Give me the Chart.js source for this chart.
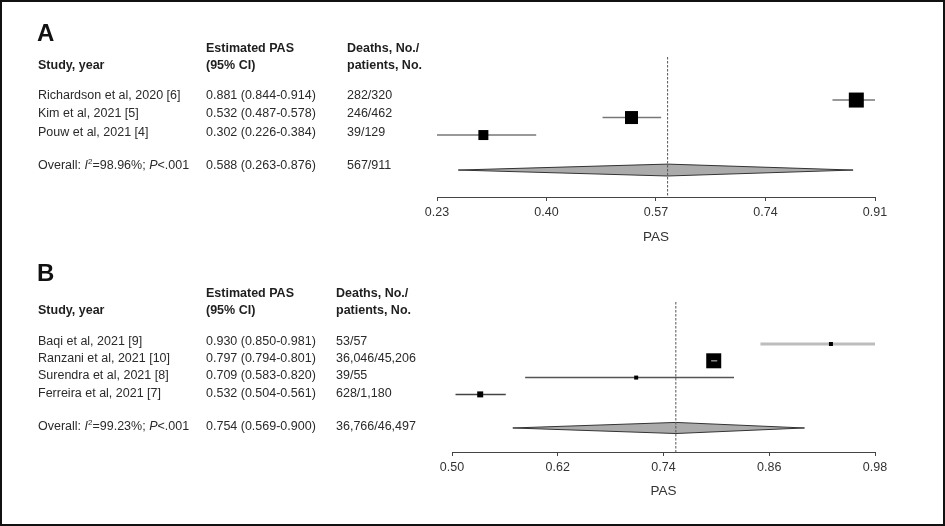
<!DOCTYPE html>
<html>
<head>
<meta charset="utf-8">
<script src="https://cdn.jsdelivr.net/npm/chart.js@4.4.0/dist/chart.umd.min.js"></script>
<style>
html,body{margin:0;padding:0;background:#fff;}
#frame{position:absolute;left:0;top:0;width:945px;height:526px;overflow:hidden;font-family:"Liberation Sans",Arial,Helvetica,sans-serif;color:#2a2a2a;background:#fff;}
#border{position:absolute;left:0;top:0;width:945px;height:526px;box-sizing:border-box;border:2px solid #111;pointer-events:none;}
.t{position:absolute;font-size:12.5px;line-height:15px;white-space:nowrap;}
.b{font-weight:bold;color:#1e1e1e;}
.panel{position:absolute;font-size:24px;font-weight:bold;line-height:28px;color:#111;}
sup{font-size:8px;line-height:0;vertical-align:5px;}
canvas{position:absolute;}
</style>
</head>
<body>
<div id="frame">
  <canvas id="chartA" width="500" height="215" style="left:400px;top:40px;width:500px;height:215px;"></canvas>
  <canvas id="chartB" width="500" height="225" style="left:400px;top:285px;width:500px;height:225px;"></canvas>
  <div id="border"></div>
</div>
<script>
// ---------- Panel A data ----------
const studiesA = ["Richardson et al, 2020 [6]", "Kim et al, 2021 [5]", "Pouw et al, 2021 [4]"];
const estA = [0.881, 0.532, 0.302];
const loA = [0.844, 0.487, 0.226];
const hiA = [0.914, 0.578, 0.384];
const deathsA = ["282/320", "246/462", "39/129"];
const overallEstA = 0.588;
const overallLoA = 0.263;
const overallHiA = 0.876;
const overallDeathsA = "567/911";
const i2A = "98.96%";
const ticksA = [0.23, 0.40, 0.57, 0.74, 0.91];

// ---------- Panel B data ----------
const studiesB = ["Baqi et al, 2021 [9]", "Ranzani et al, 2021 [10]", "Surendra et al, 2021 [8]", "Ferreira et al, 2021 [7]"];
const estB = [0.930, 0.797, 0.709, 0.532];
const loB = [0.850, 0.794, 0.583, 0.504];
const hiB = [0.981, 0.801, 0.820, 0.561];
const deathsB = ["53/57", "36,046/45,206", "39/55", "628/1,180"];
const overallEstB = 0.754;
const overallLoB = 0.569;
const overallHiB = 0.900;
const overallDeathsB = "36,766/46,497";
const i2B = "99.23%";
const ticksB = [0.50, 0.62, 0.74, 0.86, 0.98];

const pLabel = "<.001";

// ---------- styles / layout ----------
const styleA = {
  boxSide: [15, 13, 10],
  ciColor: ['#777', '#777', '#777'],
  ciWidth: [1.5, 1.5, 1.5],
  ciOnTop: [false, false, false],
  yMin: -2.46, yMax: 5.54, diamondHalf: 0.34,
  pad: {left: 37, right: 25, top: 17, bottom: 0},
  axisH: 58, tickPad: 4, titlePad: 9.9,
  panelTop: 19, panelLabel: 'A',
  headTop: [48.5, 65.5], rowY: [95, 113, 132.5], overallY: 165,
  colX: [38, 206, 347]
};
const styleB = {
  boxSide: [4, 15, 4, 6],
  ciColor: ['#bdbdbd', '#8a8a8a', '#555', '#444'],
  ciWidth: [3, 1.5, 1.5, 1.5],
  ciOnTop: [false, true, false, false],
  yMin: -2.5, yMax: 6.43, diamondHalf: 0.33,
  pad: {left: 52, right: 25, top: 17, bottom: 0},
  axisH: 58, tickPad: 4.5, titlePad: 10.9,
  panelTop: 259, panelLabel: 'B',
  headTop: [293, 310], rowY: [341, 358, 375.5, 393], overallY: 426,
  colX: [38, 206, 336]
};
const FONT = '"Liberation Sans", Arial, sans-serif';

const frame = document.getElementById('frame');
function addText(html, x, cy, cls) {
  const d = document.createElement('div');
  d.className = 't' + (cls ? ' ' + cls : '');
  d.style.left = x + 'px';
  d.style.top = (cy - 7.35) + 'px';
  d.innerHTML = html;
  frame.appendChild(d);
}
function fmt(v) { return v.toFixed(3); }

function buildTable(studies, est, lo, hi, deaths, oEst, oLo, oHi, oDeaths, i2, s) {
  const p = document.createElement('div');
  p.className = 'panel';
  p.style.left = '37px';
  p.style.top = s.panelTop + 'px';
  p.textContent = s.panelLabel;
  frame.appendChild(p);
  addText('Study, year', s.colX[0], s.headTop[1], 'b');
  addText('Estimated PAS', s.colX[1], s.headTop[0], 'b');
  addText('(95% CI)', s.colX[1], s.headTop[1], 'b');
  addText('Deaths, No./', s.colX[2], s.headTop[0], 'b');
  addText('patients, No.', s.colX[2], s.headTop[1], 'b');
  studies.forEach((name, i) => {
    addText(name, s.colX[0], s.rowY[i]);
    addText(fmt(est[i]) + ' (' + fmt(lo[i]) + '-' + fmt(hi[i]) + ')', s.colX[1], s.rowY[i]);
    addText(deaths[i], s.colX[2], s.rowY[i]);
  });
  addText('Overall: <i>I</i><sup>2</sup>=' + i2 + '; <i>P</i>' + pLabel.replace('<', '&lt;'), s.colX[0], s.overallY);
  addText(fmt(oEst) + ' (' + fmt(oLo) + '-' + fmt(oHi) + ')', s.colX[1], s.overallY);
  addText(oDeaths, s.colX[2], s.overallY);
}

function buildForest(id, est, lo, hi, oEst, oLo, oHi, ticks, s) {
  const oRow = est.length + 1;
  const datasets = [];
  est.forEach((e, i) => {
    datasets.push({
      type: 'line',
      data: [{x: lo[i], y: i}, {x: hi[i], y: i}],
      borderColor: s.ciColor[i], borderWidth: s.ciWidth[i],
      pointRadius: 0, fill: false, order: s.ciOnTop[i] ? 0.5 : 3
    });
  });
  datasets.push({
    type: 'scatter',
    data: est.map((e, i) => ({x: e, y: i})),
    pointStyle: 'rect',
    pointRadius: s.boxSide.map(v => v * Math.SQRT1_2),
    pointHoverRadius: s.boxSide.map(v => v * Math.SQRT1_2),
    pointBackgroundColor: '#000', pointBorderColor: '#000', pointBorderWidth: 0,
    order: 1
  });
  const h = s.diamondHalf;
  datasets.push({
    type: 'line',
    data: [{x: oLo, y: oRow}, {x: oEst, y: oRow - h}, {x: oHi, y: oRow}, {x: oEst, y: oRow + h}, {x: oLo, y: oRow}],
    fill: 'shape', backgroundColor: '#ababab', borderColor: '#333', borderWidth: 1,
    pointRadius: 0, tension: 0, order: 2
  });
  datasets.push({
    type: 'line',
    data: [{x: oEst, y: s.yMin}, {x: oEst, y: s.yMax}],
    borderColor: '#555', borderWidth: 1, borderDash: [2.5, 1.5],
    pointRadius: 0, fill: false, order: 0
  });
  new Chart(document.getElementById(id), {
    type: 'scatter',
    data: {datasets},
    options: {
      responsive: false, animation: false, devicePixelRatio: 1,
      layout: {padding: s.pad},
      plugins: {legend: {display: false}, tooltip: {enabled: false}},
      events: [],
      scales: {
        x: {
          type: 'linear', min: ticks[0], max: ticks[ticks.length - 1],
          afterBuildTicks: sc => { sc.ticks = ticks.map(v => ({value: v})); },
          afterFit: sc => { sc.height = s.axisH; },
          grid: {display: true, drawOnChartArea: false, drawTicks: true, tickLength: 4, color: '#444', lineWidth: 1},
          border: {display: true, color: '#444', width: 1},
          ticks: {
            padding: s.tickPad, color: '#333', maxRotation: 0, autoSkip: false,
            font: {family: FONT, size: 12.5},
            callback: v => Number(v).toFixed(2)
          },
          title: {
            display: true, text: 'PAS', color: '#333',
            font: {family: FONT, size: 13.5},
            padding: {top: 0, bottom: s.titlePad}
          }
        },
        y: {type: 'linear', display: false, reverse: true, min: s.yMin, max: s.yMax}
      }
    }
  });
}

buildTable(studiesA, estA, loA, hiA, deathsA, overallEstA, overallLoA, overallHiA, overallDeathsA, i2A, styleA);
buildTable(studiesB, estB, loB, hiB, deathsB, overallEstB, overallLoB, overallHiB, overallDeathsB, i2B, styleB);
buildForest('chartA', estA, loA, hiA, overallEstA, overallLoA, overallHiA, ticksA, styleA);
buildForest('chartB', estB, loB, hiB, overallEstB, overallLoB, overallHiB, ticksB, styleB);
</script>
</body>
</html>
